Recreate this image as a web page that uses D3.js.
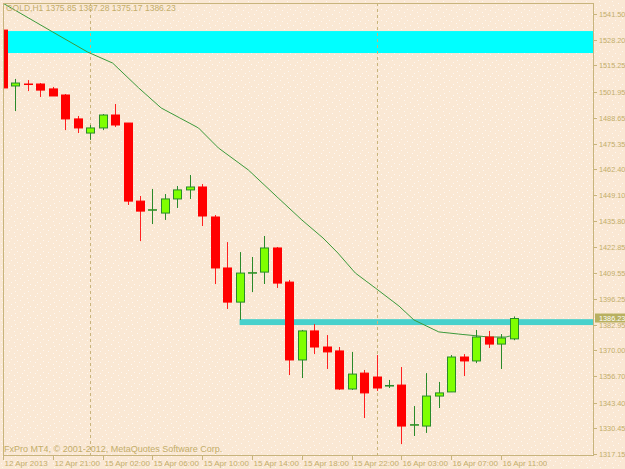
<!DOCTYPE html>
<html><head><meta charset="utf-8">
<script src="https://cdn.jsdelivr.net/npm/d3@7"></script>
<style>body{margin:0;background:#fae8d4}svg{display:block}</style>
</head><body><svg id="chart" width="625" height="469"></svg>
<script>
// OHLC per hour bar
const opens  = [1533.3,1504.8,1505.8,1505.8,1503.3,1500.2,1488.0,1480.8,1483.4,1490.0,1485.9,1446.1,1441.6,1440.0,1447.2,1451.8,1453.3,1438.0,1412.0,1394.6,1409.4,1409.9,1422.2,1404.8,1365.1,1379.9,1371.7,1369.7,1350.3,1358.4,1356.4,1351.8,1352.3,1331.9,1331.4,1346.7,1348.8,1366.6,1364.6,1376.8,1373.2,1375.85];
const highs  = [1536.9,1508.4,1507.8,1506.3,1504.3,1500.7,1489.5,1484.9,1490.5,1495.6,1485.9,1448.7,1452.3,1449.7,1453.8,1459.4,1454.8,1439.0,1425.2,1420.1,1417.6,1428.3,1422.7,1405.9,1380.4,1383.4,1377.8,1371.7,1369.2,1360.0,1367.6,1354.9,1361.5,1341.6,1358.4,1353.9,1367.6,1368.1,1380.4,1379.9,1378.3,1387.28];
const lows   = [1502.7,1492.0,1502.2,1499.2,1499.7,1482.3,1480.8,1477.3,1482.3,1483.9,1444.1,1425.7,1434.4,1436.5,1442.6,1447.2,1433.4,1403.8,1391.1,1385.5,1399.7,1403.8,1401.8,1357.4,1355.9,1368.1,1360.5,1349.8,1349.8,1335.5,1349.3,1350.8,1322.2,1326.3,1327.9,1340.6,1348.8,1356.9,1363.5,1371.2,1360.5,1375.17];
const closes = [1503.8,1506.3,1505.6,1502.7,1499.7,1488.0,1483.4,1483.4,1490.0,1484.9,1446.1,1441.0,1441.7,1447.2,1451.8,1453.3,1438.5,1412.0,1394.6,1409.4,1409.6,1422.2,1404.3,1365.1,1379.9,1371.7,1369.2,1350.3,1357.9,1348.3,1350.8,1352.1,1331.4,1332.1,1346.7,1348.3,1366.6,1364.6,1376.8,1373.2,1376.3,1386.23];

// moving average (bar index, price)
const maIdx = [0,4,6.8,8.8,10.9,12.7,14.2,15.7,17.3,19.7,22.1,24,25.7,26.9,28.3,29.9,31.8,33,35,36.6,39,40.4,41];
const maVal = [1547,1532.3,1522.1,1516.5,1503.8,1493.6,1488.5,1483.4,1473.2,1462.0,1447.7,1436.5,1427.3,1419.6,1409.4,1401.8,1392.6,1385.5,1379.4,1378.3,1376.8,1376.8,1377.8];

const priceTicks = ["1541.50","1528.20","1515.25","1501.95","1488.65","1475.35","1462.40","1449.10","1435.80","1422.85","1409.55","1396.25","1382.95","1370.00","1356.70","1343.40","1330.45","1317.15"];
const timeIdx = [0,4,8,12,16,20,24,28,32,36,40];
const timeLabels = ["12 Apr 2013","12 Apr 21:00","15 Apr 02:00","15 Apr 06:00","15 Apr 10:00","15 Apr 14:00","15 Apr 18:00","15 Apr 22:00","16 Apr 03:00","16 Apr 07:00","16 Apr 11:00"];
const separators = [7, 30];
const zones = [{from:1521.6, to:1532.8, start:-1, color:"#00ffff"}, {from:1382.9, to:1385.9, start:19, color:"#48d1cc"}];

const svg = d3.select("#chart");
const pLeft = 3, pRight = 593, pTop = 3, pBottom = 455;
const axisCol = "#c8b47c", textCol = "#c3ad6a";

const x = d3.scaleLinear().domain([0, 41]).range([3, 513.5]);
const y = d3.scaleLinear().domain([1317.15, 1541.5]).range([454, 14]);

// dotted background texture
const defs = svg.append("defs");
const pat = defs.append("pattern").attr("id", "dots").attr("width", 13).attr("height", 11).attr("patternUnits", "userSpaceOnUse");
[[1,1],[7,3],[11,7],[4,9],[9,10],[2,5]].forEach(p => pat.append("rect").attr("x", p[0]).attr("y", p[1]).attr("width", 1).attr("height", 1).attr("fill", "#fff").attr("opacity", 0.7));
svg.append("rect").attr("width", 625).attr("height", 469).attr("fill", "#fae8d4");
svg.append("rect").attr("width", 625).attr("height", 469).attr("fill", "url(#dots)");

defs.append("clipPath").attr("id", "plot").append("rect")
  .attr("x", pLeft).attr("y", pTop).attr("width", pRight - pLeft).attr("height", pBottom - pTop);
const g = svg.append("g").attr("clip-path", "url(#plot)");

// zones
g.selectAll("rect.zone").data(zones).join("rect")
  .attr("x", d => d.start < 0 ? pLeft : x(d.start)).attr("width", d => pRight - (d.start < 0 ? pLeft : x(d.start)))
  .attr("y", d => y(d.to)).attr("height", d => y(d.from) - y(d.to)).attr("fill", d => d.color);

// period separators
g.selectAll("line.sep").data(separators).join("line")
  .attr("x1", d => Math.round(x(d)) + 0.5).attr("x2", d => Math.round(x(d)) + 0.5).attr("y1", pTop).attr("y2", pBottom)
  .attr("stroke", axisCol).attr("stroke-dasharray", "3,3");

// moving average
g.append("path").datum(maIdx.map((d, i) => [d, maVal[i]]))
  .attr("d", d3.line().x(d => x(d[0])).y(d => y(d[1])))
  .attr("fill", "none").attr("stroke", "#3c9a3c").attr("stroke-width", 1);

// candles
const bars = opens.map((o, i) => ({i, o, h: highs[i], l: lows[i], c: closes[i]}));
const cg = g.selectAll("g.c").data(bars).join("g");
cg.append("line")
  .attr("x1", d => Math.round(x(d.i)) + 0.5).attr("x2", d => Math.round(x(d.i)) + 0.5)
  .attr("y1", d => y(d.h)).attr("y2", d => y(d.l))
  .attr("stroke", d => d.c >= d.o ? "#2a8a2a" : "#ff2020");
cg.append("rect")
  .attr("x", d => Math.round(x(d.i)) - 3.5).attr("width", 8)
  .attr("y", d => y(Math.max(d.o, d.c))).attr("height", d => Math.max(0.5, Math.abs(y(d.o) - y(d.c))))
  .attr("fill", d => d.c >= d.o ? "#7fff00" : "#ff0000")
  .attr("stroke", d => d.c >= d.o ? "#2a8a2a" : "#ff0000");

// frame
svg.append("rect").attr("x", pLeft + 0.5).attr("y", pTop + 0.5).attr("width", pRight - pLeft).attr("height", pBottom - pTop)
  .attr("fill", "none").attr("stroke", axisCol);

const font = "'Liberation Sans', Arial, sans-serif";
// price axis
const pt = svg.append("g").selectAll("g").data(priceTicks).join("g")
  .attr("transform", d => `translate(${pRight},${Math.round(y(+d)) + 0.5})`);
pt.append("line").attr("x1", 0.5).attr("x2", 4).attr("stroke", axisCol);
pt.append("text").attr("x", 6).attr("dy", "0.35em").attr("fill", textCol)
  .attr("font-family", font).attr("font-size", 7.3).text(d => d);

// last price marker
const lastY = y(closes[closes.length - 1]);
svg.append("rect").attr("x", pRight + 2).attr("y", lastY - 5).attr("width", 30).attr("height", 9).attr("fill", "#b8b060");
svg.append("text").attr("x", pRight + 6).attr("y", lastY - 0.5).attr("dy", "0.35em").attr("fill", "#fff")
  .attr("font-family", font).attr("font-size", 7.3).text(closes[closes.length - 1].toFixed(2));

// time axis
const tt = svg.append("g").selectAll("g").data(timeIdx).join("g")
  .attr("transform", d => `translate(${Math.round(x(d)) + 0.5},${pBottom})`);
tt.append("line").attr("y1", 0).attr("y2", 5).attr("stroke", axisCol);
tt.append("text").attr("x", 1).attr("y", 11).attr("fill", textCol)
  .attr("font-family", font).attr("font-size", 8).text((d, i) => timeLabels[i]);

// header and footer
svg.append("text").attr("x", 6).attr("y", 11).attr("fill", textCol).attr("font-family", font).attr("font-size", 8.5)
  .text(`GOLD,H1   ${opens[41].toFixed(2)} ${highs[41].toFixed(2)} ${lows[41].toFixed(2)} ${closes[41].toFixed(2)}`);
svg.append("text").attr("x", 4).attr("y", 452).attr("fill", textCol).attr("font-family", font).attr("font-size", 9)
  .text("FxPro MT4, © 2001-2012, MetaQuotes Software Corp.");
</script></body></html>
